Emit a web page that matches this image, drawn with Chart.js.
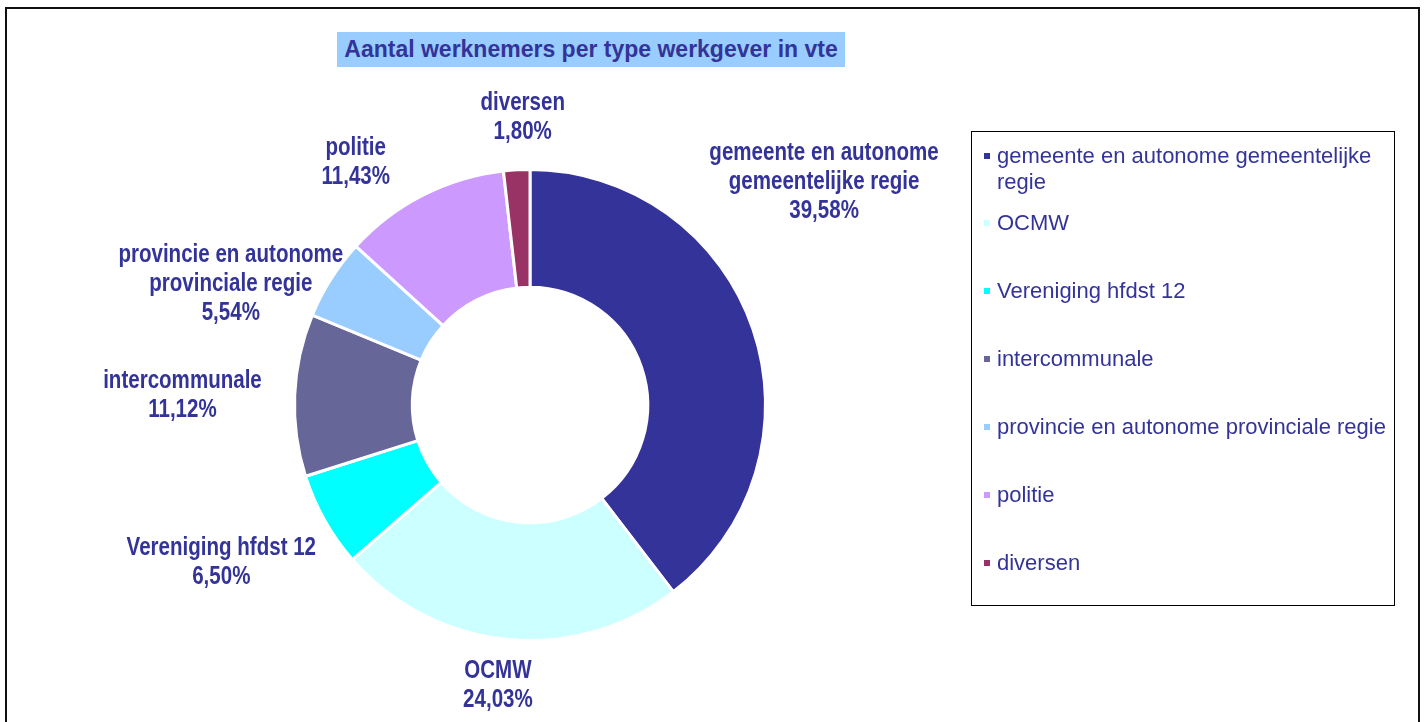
<!DOCTYPE html>
<html>
<head>
<meta charset="utf-8">
<script src="https://cdn.jsdelivr.net/npm/chart.js@4/dist/chart.umd.min.js"></script>
<style>
    html, body { margin: 0; padding: 0; background: #fff; overflow: hidden; }
    body { width: 1424px; height: 722px; position: relative; font-family: "Liberation Sans", Arial, sans-serif; }
    #frame { position: absolute; left: 5px; top: 7px; width: 1411px; height: 800px; border: 2px solid #111; }
    #chartWrap { position: absolute; left: 0; top: 0; width: 1424px; height: 722px; }
    #title {
        position: absolute; left: 337px; top: 32px; width: 508px; height: 35px;
        background: #99CCFF; color: #333399; font-weight: bold; font-size: 23px;
        line-height: 35px; text-align: center;
    }
    #legend {
        position: absolute; left: 971px; top: 131px; width: 424px; height: 475px;
        border: 1px solid #000; box-sizing: border-box;
    }
    .legend-item { position: absolute; left: 12px; width: 400px; }
    .legend-item .box { position: absolute; left: 0; top: 10px; width: 6px; height: 6px; }
    .legend-item .txt {
        margin-left: 13px; width: 395px; color: #333399; font-size: 22px; line-height: 26px;
    }
</style>
</head>
<body>
<div id="frame"></div>
<div id="chartWrap"><canvas id="donutChart" width="1424" height="722"></canvas></div>
<div id="title">Aantal werknemers per type werkgever in vte</div>
<div id="legend"></div>
<script>
// chart data
const categories = [
    'gemeente en autonome gemeentelijke regie',
    'OCMW',
    'Vereniging hfdst 12',
    'intercommunale',
    'provincie en autonome provinciale regie',
    'politie',
    'diversen'
];
// wrapped text for the data labels next to the ring
const labelLines = [
    ['gemeente en autonome', 'gemeentelijke regie'],
    ['OCMW'],
    ['Vereniging hfdst 12'],
    ['intercommunale'],
    ['provincie en autonome', 'provinciale regie'],
    ['politie'],
    ['diversen']
];
const shares = [39.58, 24.03, 6.50, 11.12, 5.54, 11.43, 1.80];
const sliceColors = ['#333399', '#CCFFFF', '#00FFFF', '#666699', '#99CCFF', '#CC99FF', '#993366'];

const fmtPct = v => v.toFixed(2).replace('.', ',') + '%';

// outside labels, placed from each arc's middle angle
const outsideLabels = {
    id: 'outsideLabels',
    afterDatasetsDraw(chart, args, opts) {
        const ctx = chart.ctx;
        const meta = chart.getDatasetMeta(0);
        const font = 'bold 26px "Liberation Sans", Arial, sans-serif';
        const sx = opts.scaleX;
        const lh = opts.lineHeight;
        ctx.save();
        ctx.font = font;
        ctx.fillStyle = opts.color;
        ctx.textAlign = 'center';
        ctx.textBaseline = 'middle';
        meta.data.forEach((arc, i) => {
            const p = arc.getProps(['x', 'y', 'startAngle', 'endAngle', 'outerRadius'], true);
            const mid = (p.startAngle + p.endAngle) / 2;
            const dx = Math.cos(mid), dy = Math.sin(mid);
            const lines = labelLines[i].concat([fmtPct(shares[i])]);
            const w = Math.max(...lines.map(l => ctx.measureText(l).width)) * sx;
            const h = lines.length * lh;
            const ax = p.x + dx * (p.outerRadius + opts.gap);
            const ay = p.y + dy * (p.outerRadius + opts.gap);
            const nudge = opts.nudges[i] || [0, 0];
            const cx = ax + dx * w / 2 + nudge[0];
            const cy = ay + dy * h / 2 + nudge[1];
            lines.forEach((line, k) => {
                const ly = cy - h / 2 + lh * (k + 0.5);
                ctx.save();
                ctx.translate(cx, ly);
                ctx.scale(sx, 1);
                ctx.fillText(line, 0, 0);
                ctx.restore();
            });
        });
        ctx.restore();
    }
};

const ctx = document.getElementById('donutChart').getContext('2d');
const donutChart = new Chart(ctx, {
    type: 'doughnut',
    data: {
        labels: categories,
        datasets: [{
            data: shares,
            backgroundColor: sliceColors,
            borderColor: '#ffffff',
            borderWidth: 3
        }]
    },
    options: {
        responsive: false,
        animation: false,
        cutout: '50%',
        layout: { padding: { left: 293, right: 657, top: 168, bottom: 80 } },
        plugins: {
            legend: { display: false },
            tooltip: { enabled: false },
            outsideLabels: {
                color: '#333399',
                scaleX: 0.79,
                lineHeight: 29,
                gap: 10,
                nudges: [[-47, -130], [-4, 7], [-12, 23], [-23, 2], [3, 34], [-47, 2], [9, -14]]
            }
        }
    },
    plugins: [outsideLabels]
});

// legend box built from the same arrays
const legendEl = document.getElementById('legend');
categories.forEach((name, i) => {
    const item = document.createElement('div');
    item.className = 'legend-item';
    item.style.top = (i === 0 ? 11 : 78 + (i - 1) * 68) + 'px';
    const box = document.createElement('div');
    box.className = 'box';
    box.style.background = sliceColors[i];
    const txt = document.createElement('div');
    txt.className = 'txt';
    txt.textContent = name;
    item.appendChild(box);
    item.appendChild(txt);
    legendEl.appendChild(item);
});
</script>
</body>
</html>
